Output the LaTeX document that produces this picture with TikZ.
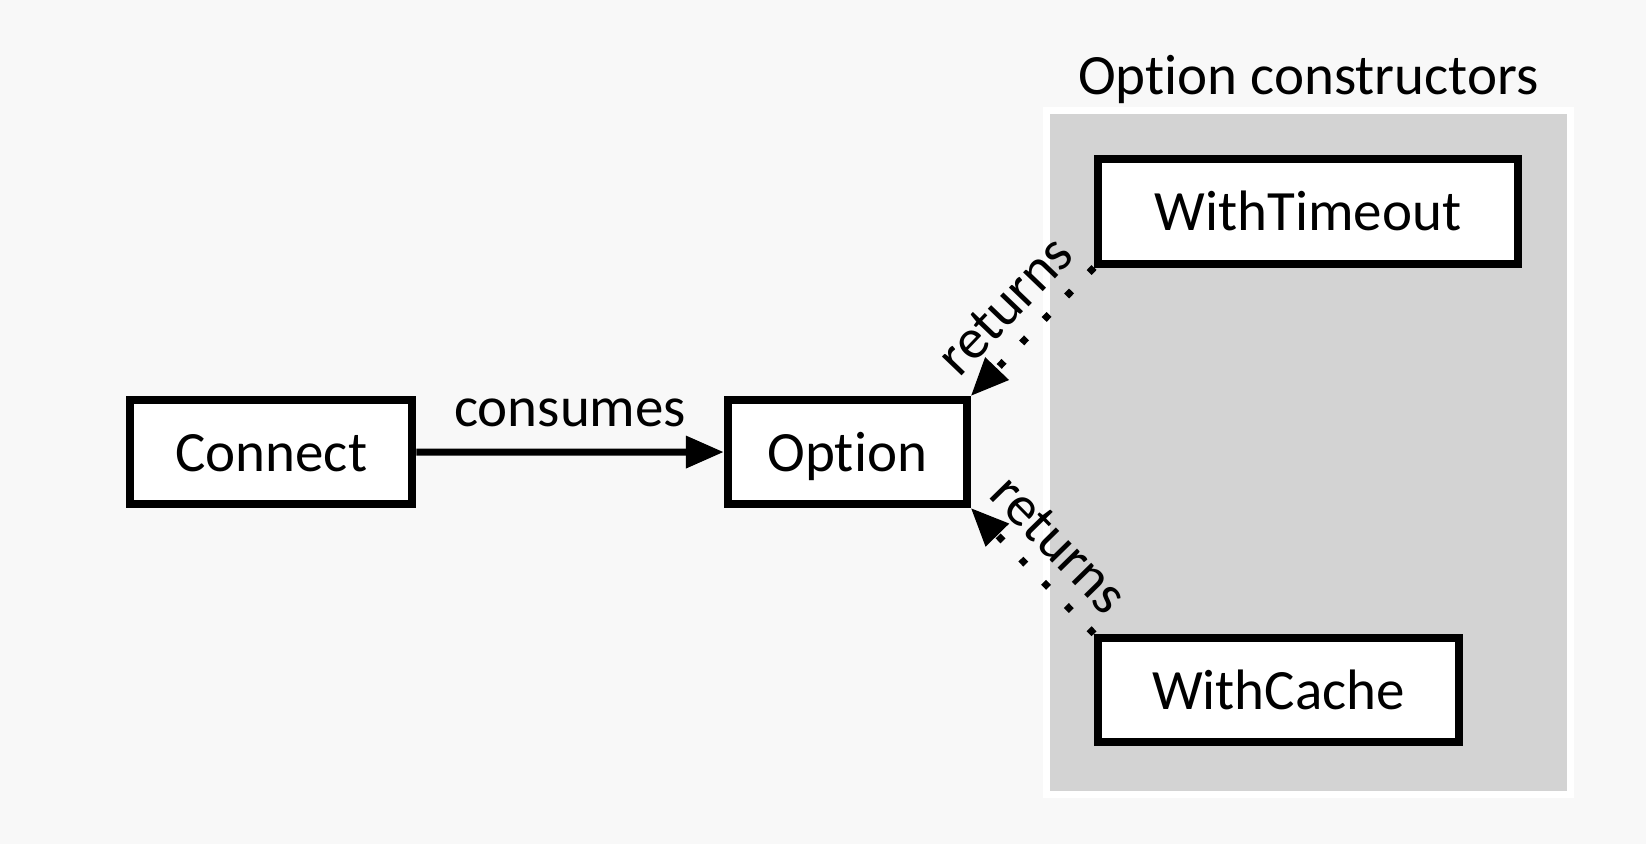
\documentclass[tikz,border=0pt]{standalone}
\usepackage{fontspec}
\setmainfont[RawFeature=-liga]{Carlito}
\usetikzlibrary{arrows.meta}
\definecolor{bgc}{HTML}{F8F8F8}
\definecolor{clus}{HTML}{D3D3D3}
\begin{document}
\begin{tikzpicture}[x=1pt,y=-1pt,
  txt/.style={font=\fontsize{57}{68}\selectfont},
  box/.style={txt, draw=black, fill=white, line width=8pt, inner sep=0pt,
    text height=38pt, text depth=0pt},
  lbl/.style={txt, inner sep=0pt},
  clusterbox/.style={draw=white, fill=clus, line width=7pt, inner sep=0pt},
  tip/.style={-{Triangle[length=38pt,width=31pt]}},
  solidedge/.style={line width=7pt, tip},
  dotedge/.style={line width=7pt, dash pattern=on 7pt off 25.5pt, line cap=butt, tip}]
\useasboundingbox (0,0) rectangle (1646,844);
\fill[bgc] (0,0) rectangle (1646,844);
\node[clusterbox, minimum width=523.8pt, minimum height=684.5pt] (cl) at (1308.4,452.25) {};
\node[lbl, anchor=base] (ttl) at (1308.4,94) {Option constructors};
\node[box, minimum width=282.5pt, minimum height=104.5pt] (con) at (271.2,452.2) {Connect};
\node[box, minimum width=239pt, minimum height=104pt] (opt) at (847.3,452) {Option};
\node[box, minimum width=420pt, minimum height=105pt] (wt) at (1308,211) {WithTimeout};
\node[box, minimum width=361pt, minimum height=104.5pt] (wc) at (1278.5,690) {WithCache};
\draw[solidedge] (con) -- node[lbl, above=22pt] {consumes} (opt);
\draw[dotedge] (wt.south west) -- node[lbl, midway, sloped, above=16pt] {returns} (opt.north east);
\draw[dotedge] (wc.north west) -- node[lbl, midway, sloped, above=16pt] {returns} (opt.south east);
\end{tikzpicture}
\end{document}
